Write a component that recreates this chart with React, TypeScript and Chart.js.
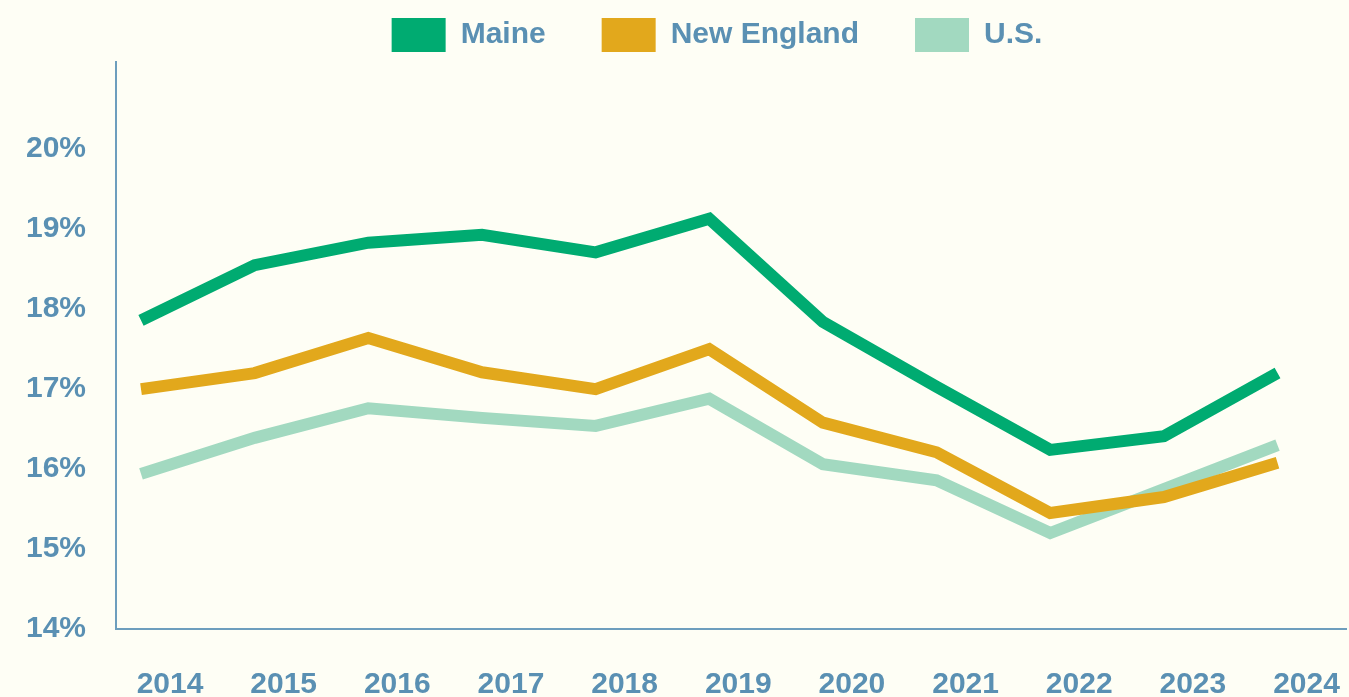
import React, { useEffect, useRef } from "react";
import { Chart, registerables } from "chart.js";

Chart.register(...registerables);

const years = [2014, 2015, 2016, 2017, 2018, 2019, 2020, 2021, 2022, 2023, 2024];
const maine = [17.86, 18.55, 18.83, 18.93, 18.71, 19.13, 17.84, 17.03, 16.24, 16.41, 17.2];
const newEngland = [17.0, 17.2, 17.64, 17.21, 17.0, 17.5, 16.58, 16.21, 15.45, 15.65, 16.08];
const us = [15.94, 16.39, 16.76, 16.64, 16.54, 16.88, 16.06, 15.86, 15.2, 15.75, 16.3];
const yTickValues = [14, 15, 16, 17, 18, 19, 20];
const seriesNames = ["Maine", "New England", "U.S."];

const BG = "#fefef5";
const TEXT = "#5a90b3";
const AXIS = "#6d9ebd";
const COLORS = ["#00ab71", "#e2a81c", "#a2d9c0"];
const FONT = "'Liberation Sans', Arial, sans-serif";
const PAD_LEFT = 87;

const unclipYLabels = {
  id: "unclipYLabels",
  afterLayout(chart: any) {
    if (chart.scales.y) chart.scales.y.left = 0;
  },
};

export default function App() {
  const ref = useRef<HTMLCanvasElement>(null);

  useEffect(() => {
    document.body.style.margin = "0";
    document.body.style.background = BG;
    const seriesValues = [maine, newEngland, us];
    const chart = new Chart(ref.current as HTMLCanvasElement, {
      type: "line",
      data: {
        datasets: seriesNames.map((name, i) => ({
          label: name,
          data: years.map((yr, j) => ({ x: yr, y: seriesValues[i][j] })),
          borderColor: COLORS[i],
          backgroundColor: COLORS[i],
          borderWidth: 12,
          pointRadius: 0,
          pointHoverRadius: 0,
          tension: 0,
          borderJoinStyle: "miter" as const,
          borderCapStyle: "butt" as const,
          fill: false,
        })),
      },
      plugins: [unclipYLabels],
      options: {
        responsive: false,
        animation: false,
        events: [],
        layout: { padding: { top: -38, left: PAD_LEFT, right: 2, bottom: 0 } },
        plugins: {
          tooltip: { enabled: false },
          legend: {
            display: true,
            position: "top",
            align: "center",
            labels: {
              boxWidth: 54,
              boxHeight: 34,
              padding: 56,
              color: TEXT,
              font: { family: FONT, size: 30, weight: "bold" },
              generateLabels: (c: any) =>
                Chart.defaults.plugins.legend.labels
                  .generateLabels(c)
                  .map((l: any) => ({ ...l, lineWidth: 0 })),
            },
          },
        },
        scales: {
          x: {
            type: "linear",
            min: 2013.78,
            max: 2024.61,
            grid: { display: false, drawTicks: false },
            border: { display: true, color: AXIS, width: 2 },
            afterBuildTicks: (scale: any) => {
              scale.ticks = years.map((v) => ({ value: v }));
            },
            afterFit: (scale: any) => {
              scale.height = 68;
            },
            ticks: {
              autoSkip: false,
              maxRotation: 0,
              padding: 38,
              labelOffset: 29,
              color: TEXT,
              font: { family: FONT, size: 30, weight: "bold" },
              callback: (v: any) => String(v),
            },
          },
          y: {
            type: "linear",
            min: 14,
            max: 21.09,
            grid: { display: false, drawTicks: false },
            border: { display: true, color: AXIS, width: 2 },
            afterBuildTicks: (scale: any) => {
              scale.ticks = yTickValues.map((v) => ({ value: v }));
            },
            afterFit: (scale: any) => {
              scale.width = 116 - PAD_LEFT;
            },
            ticks: {
              padding: 30,
              color: TEXT,
              font: { family: FONT, size: 30, weight: "bold" },
              callback: (v: any) => v + "%",
            },
          },
        },
      },
    });
    return () => chart.destroy();
  }, []);

  return (
    <div style={{ width: 1349, height: 697, background: BG }}>
      <canvas ref={ref} width={1349} height={697} style={{ display: "block" }} />
    </div>
  );
}
